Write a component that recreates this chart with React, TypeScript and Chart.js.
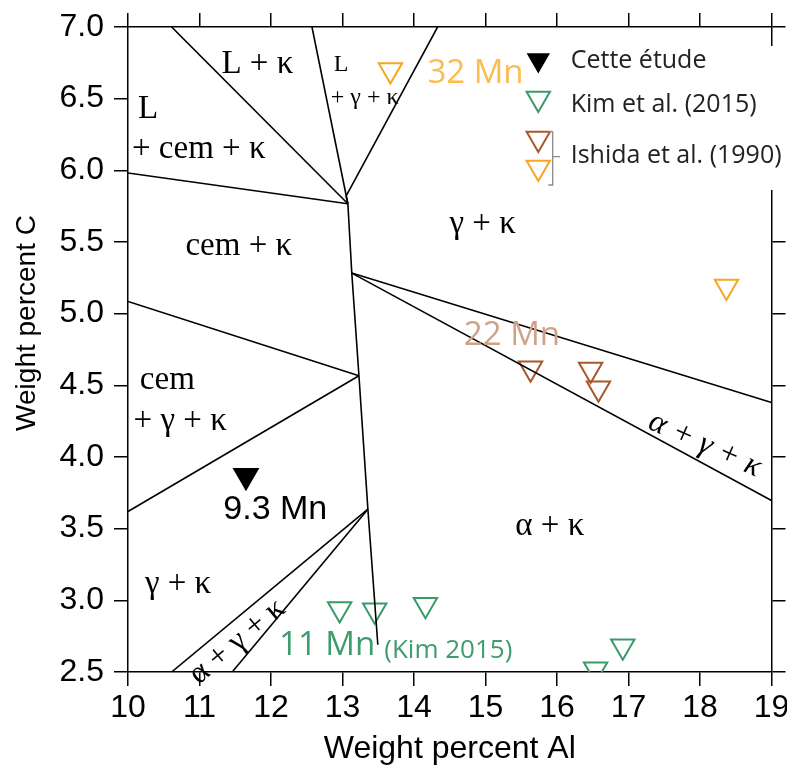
import React, { useEffect, useRef } from 'react';
import { Chart, registerables } from 'chart.js';

Chart.register(...registerables);

// ---- axis ranges / ticks ----
const X_MIN = 10;
const X_MAX = 19;
const X_STEP = 1;
const Y_MIN = 2.5;
const Y_MAX = 7.0;
const Y_STEP = 0.5;

// ---- measured points (wt% Al, wt% C) ----
const cetteEtude: [number, number][] = [[11.65, 3.87]];
const kim2015: [number, number][] = [
  [12.96, 2.94], [13.45, 2.93], [14.16, 2.97], [16.92, 2.68], [16.54, 2.52],
];
const ishida22Mn: [number, number][] = [[15.63, 4.62], [16.47, 4.61], [16.58, 4.48]];
const ishida32Mn: [number, number][] = [[13.67, 6.70], [18.37, 5.19]];

// ---- phase boundaries ----
const bLkappa: [number, number][] = [[10.61, 7.0], [13.075, 5.767]];
const bLgk: [number, number][] = [[12.573, 7.0], [13.075, 5.767]];
const bGk: [number, number][] = [[14.33, 7.0], [13.05, 5.82]];
const bCem: [number, number][] = [[10.0, 5.981], [13.075, 5.767]];
const bSpine: [number, number][] = [
  [13.05, 5.82], [13.075, 5.767], [13.13, 5.283], [13.23, 4.567], [13.355, 3.636], [13.494, 2.69],
];
const bAgkUpper: [number, number][] = [[13.13, 5.283], [19.0, 4.38]];
const bAgkLower: [number, number][] = [[13.13, 5.283], [19.0, 3.697]];
const bCemGk1: [number, number][] = [[10.0, 5.085], [13.23, 4.567]];
const bCemGk2: [number, number][] = [[10.0, 3.62], [13.23, 4.567]];
const bAgkLeft1: [number, number][] = [[10.61, 2.5], [13.355, 3.636]];
const bAgkLeft2: [number, number][] = [[11.457, 2.5], [13.355, 3.636]];

const boundaries = [
  bLkappa, bLgk, bGk, bCem, bSpine, bAgkUpper, bAgkLower, bCemGk1, bCemGk2, bAgkLeft1, bAgkLeft2,
];

// ---- text labels (anchored in data units, baseline) ----
const phaseLabels = [
  { text: 'L + κ', x: 11.81, y: 6.68 },
  { text: 'L', x: 10.28, y: 6.365 },
  { text: '+ cem + κ', x: 10.99, y: 6.086 },
  { text: 'cem + κ', x: 11.55, y: 5.41 },
  { text: 'γ + κ', x: 14.96, y: 5.56 },
  { text: 'cem', x: 10.55, y: 4.474 },
  { text: '+ γ + κ', x: 10.73, y: 4.185 },
  { text: 'γ + κ', x: 10.70, y: 3.054 },
  { text: 'α + κ', x: 15.90, y: 3.457 },
];
const phaseLabelsSmall = [
  { text: 'L', x: 12.98, y: 6.69 },
  { text: '+ γ + κ', x: 13.31, y: 6.465 },
];
const phaseLabelsRotated = [
  { text: 'α + γ + κ', x: 11.53, y: 2.712, angle: -40, italic: false },
  { text: 'α + γ + κ', x: 18.07, y: 4.085, angle: 24, italic: true },
];
const mnLabels = [
  { text: '32 Mn', x: 14.86, y: 6.61, series: 'orange' },
  { text: '22 Mn', x: 15.37, y: 4.783, series: 'brown' },
  { text: '11 Mn', x: 12.785, y: 2.62, series: 'green' },
];
const refLabels = [{ text: '(Kim 2015)', x: 14.48, y: 2.597, series: 'green' }];
const sampleLabels = [{ text: '9.3 Mn', x: 12.06, y: 3.569 }];

const legendLabels = ['Cette étude', 'Kim et al. (2015)', 'Ishida et al. (1990)'];
const xTitle = 'Weight percent Al';
const yTitle = 'Weight percent C';

const COLORS: Record<string, string> = {
  orange: '#f5a623',
  brown: '#a8582a',
  green: '#3a9a68',
  black: '#000000',
};
const TEXT_COLORS: Record<string, string> = {
  orange: '#fbbd4f',
  brown: '#cfa28a',
  green: '#3f9c6c',
};

const SERIF = '"Liberation Serif", "Times New Roman", serif';
const SANS = '"Liberation Sans", Arial, sans-serif';
const CALI = '"Open Sans", "Noto Sans", sans-serif';
const MARK_R = 13.5;

const toXY = (arr: [number, number][]) => arr.map(([x, y]) => ({ x, y }));

function downTriangle(ctx: CanvasRenderingContext2D, cx: number, cy: number, r: number) {
  const s = Math.sin(Math.PI / 3) * r;
  ctx.beginPath();
  ctx.moveTo(cx, cy + r);
  ctx.lineTo(cx - s, cy - r / 2);
  ctx.lineTo(cx + s, cy - r / 2);
  ctx.closePath();
}

const labelsPlugin = {
  id: 'phaseLabels',
  afterDatasetsDraw(chart: any) {
    const { ctx, scales } = chart;
    const xs = scales.x;
    const ys = scales.y;
    ctx.save();
    ctx.textAlign = 'center';
    ctx.textBaseline = 'alphabetic';
    ctx.fillStyle = '#000';
    ctx.font = `33px ${SERIF}`;
    phaseLabels.forEach((l) => ctx.fillText(l.text, xs.getPixelForValue(l.x), ys.getPixelForValue(l.y)));
    ctx.font = `24px ${SERIF}`;
    phaseLabelsSmall.forEach((l) => ctx.fillText(l.text, xs.getPixelForValue(l.x), ys.getPixelForValue(l.y)));
    phaseLabelsRotated.forEach((l) => {
      ctx.save();
      ctx.translate(xs.getPixelForValue(l.x), ys.getPixelForValue(l.y));
      ctx.rotate((l.angle * Math.PI) / 180);
      ctx.textBaseline = 'middle';
      ctx.font = `${l.italic ? 'italic ' : ''}32px ${SERIF}`;
      ctx.fillText(l.text, 0, 0);
      ctx.restore();
    });
    ctx.font = `34px ${SANS}`;
    sampleLabels.forEach((l) => ctx.fillText(l.text, xs.getPixelForValue(l.x), ys.getPixelForValue(l.y)));
    ctx.font = `33px ${CALI}`;
    mnLabels.forEach((l) => {
      ctx.fillStyle = TEXT_COLORS[l.series];
      ctx.fillText(l.text, xs.getPixelForValue(l.x), ys.getPixelForValue(l.y));
    });
    ctx.font = `26px ${CALI}`;
    refLabels.forEach((l) => {
      ctx.fillStyle = TEXT_COLORS[l.series];
      ctx.fillText(l.text, xs.getPixelForValue(l.x), ys.getPixelForValue(l.y));
    });
    ctx.restore();
  },
};

const legendPlugin = {
  id: 'customLegend',
  afterDraw(chart: any) {
    const { ctx } = chart;
    ctx.save();
    // white panel behind the legend (hides part of the right axis)
    ctx.fillStyle = '#fff';
    ctx.fillRect(516, 38, 263, 144);

    const tx = 530.3;
    ctx.lineWidth = 2;
    downTriangle(ctx, tx, 52, MARK_R);
    ctx.fillStyle = COLORS.black;
    ctx.fill();
    downTriangle(ctx, tx, 90.5, MARK_R);
    ctx.strokeStyle = COLORS.green;
    ctx.stroke();
    downTriangle(ctx, tx, 130.5, MARK_R);
    ctx.strokeStyle = COLORS.brown;
    ctx.stroke();
    downTriangle(ctx, tx, 159.5, MARK_R);
    ctx.strokeStyle = COLORS.orange;
    ctx.stroke();

    // bracket
    ctx.strokeStyle = '#8a8a8a';
    ctx.lineWidth = 1.3;
    ctx.beginPath();
    ctx.moveTo(540.3, 123.7);
    ctx.lineTo(544.7, 123.7);
    ctx.lineTo(544.7, 177);
    ctx.lineTo(540.3, 177);
    ctx.moveTo(544.7, 148.7);
    ctx.lineTo(552, 148.7);
    ctx.stroke();

    ctx.fillStyle = '#222';
    ctx.font = `25px ${CALI}`;
    ctx.textAlign = 'left';
    ctx.textBaseline = 'alphabetic';
    ctx.fillText(legendLabels[0], 562.7, 60.3);
    ctx.fillText(legendLabels[1], 562.7, 103.7);
    ctx.fillText(legendLabels[2], 562.7, 155.3);

    // y-axis title
    ctx.fillStyle = '#000';
    ctx.font = `28px ${SANS}`;
    ctx.textAlign = 'center';
    ctx.textBaseline = 'middle';
    ctx.translate(19, 315);
    ctx.rotate(-Math.PI / 2);
    ctx.fillText(yTitle, 0, 0);
    ctx.restore();
  },
};

const gridOpts = {
  drawOnChartArea: false,
  drawTicks: true,
  tickLength: 14,
  color: '#000',
  lineWidth: 1.5,
};
const borderOpts = { display: true, color: '#000', width: 1.5 };

const fitTo = (prop: 'width' | 'height', size: number) => (s: any) => {
  s[prop] = size;
  s.paddingLeft = 0;
  s.paddingRight = 0;
  s.paddingTop = 0;
  s.paddingBottom = 0;
};

export default function App() {
  const ref = useRef<HTMLCanvasElement | null>(null);
  useEffect(() => {
    if (!ref.current) return;
    const lineSets = boundaries.map((b) => ({
      data: toXY(b),
      showLine: true,
      borderColor: '#000',
      borderWidth: 1.6,
      pointRadius: 0,
      pointHoverRadius: 0,
      fill: false,
      tension: 0,
    }));
    const markerSet = (pts: [number, number][], color: string, filled: boolean) => ({
      data: toXY(pts),
      showLine: false,
      pointStyle: 'triangle',
      pointRotation: 180,
      pointRadius: MARK_R,
      pointHoverRadius: MARK_R,
      pointBorderWidth: 2,
      borderColor: color,
      pointBorderColor: color,
      backgroundColor: filled ? color : 'rgba(0,0,0,0)',
      pointBackgroundColor: filled ? color : 'rgba(0,0,0,0)',
      clip: 0,
    });
    const chart = new Chart(ref.current, {
      type: 'scatter',
      data: {
        datasets: [
          ...lineSets,
          markerSet(kim2015, COLORS.green, false),
          markerSet(ishida22Mn, COLORS.brown, false),
          markerSet(ishida32Mn, COLORS.orange, false),
          markerSet(cetteEtude, COLORS.black, true),
        ] as any,
      },
      options: {
        responsive: false,
        animation: false,
        devicePixelRatio: 1,
        events: [],
        layout: { padding: { left: 0, right: 0, top: 5, bottom: 0 } },
        plugins: { legend: { display: false }, tooltip: { enabled: false } },
        scales: {
          x: {
            type: 'linear',
            position: 'bottom',
            min: X_MIN,
            max: X_MAX,
            ticks: {
              stepSize: X_STEP,
              color: '#000',
              font: { family: SANS, size: 32 },
              padding: 3,
              maxRotation: 0,
              autoSkip: false,
            },
            grid: gridOpts,
            border: borderOpts,
            title: {
              display: true,
              text: xTitle,
              color: '#000',
              font: { family: SANS, size: 32 },
              padding: 0,
            },
            afterFit: fitTo('height', 96),
          },
          y: {
            type: 'linear',
            position: 'left',
            min: Y_MIN,
            max: Y_MAX,
            ticks: {
              stepSize: Y_STEP,
              color: '#000',
              font: { family: SANS, size: 32 },
              padding: 10,
              autoSkip: false,
              callback: (v: any) => Number(v).toFixed(1),
            },
            grid: gridOpts,
            border: borderOpts,
            afterFit: fitTo('width', 120),
          },
          x2: {
            type: 'linear',
            position: 'top',
            min: X_MIN,
            max: X_MAX,
            ticks: { stepSize: X_STEP, display: false },
            grid: gridOpts,
            border: borderOpts,
            afterFit: fitTo('height', 14),
          },
          y2: {
            type: 'linear',
            position: 'right',
            min: Y_MIN,
            max: Y_MAX,
            ticks: { stepSize: Y_STEP, display: false },
            grid: gridOpts,
            border: borderOpts,
            afterFit: fitTo('width', 14),
          },
        },
      } as any,
      plugins: [labelsPlugin, legendPlugin],
    });
    return () => chart.destroy();
  }, []);
  return (
    <div style={{ width: 779, height: 760 }}>
      <canvas ref={ref} width={779} height={760} style={{ display: 'block' }} />
    </div>
  );
}
